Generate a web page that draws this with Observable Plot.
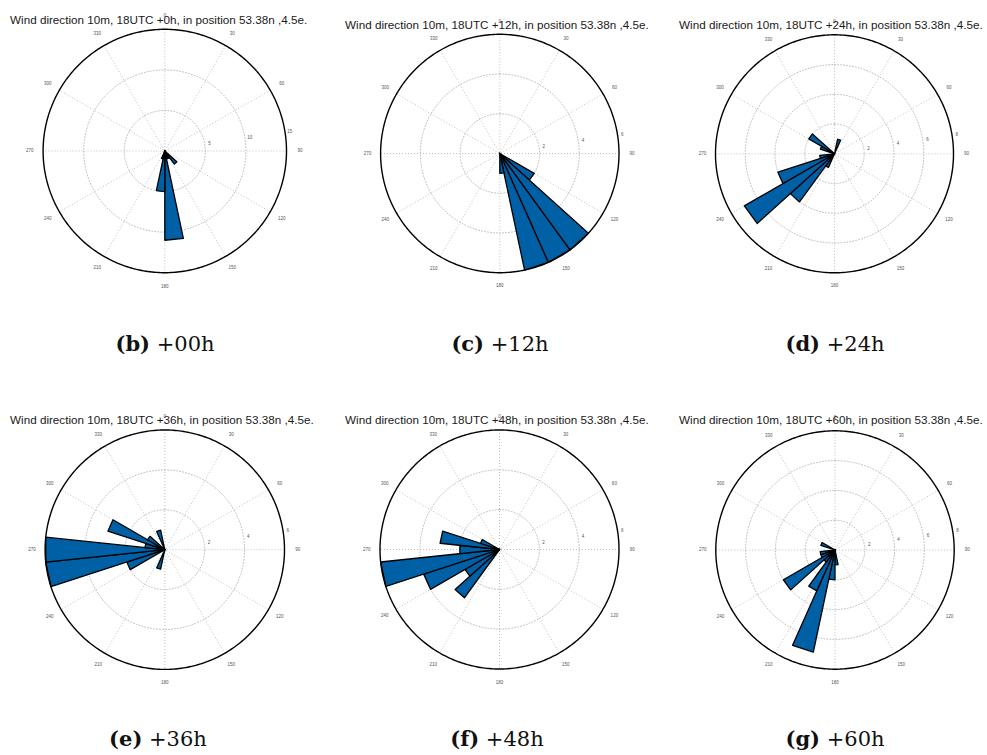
<!DOCTYPE html>
<html>
<head>
<meta charset="utf-8">
<script src="https://cdn.jsdelivr.net/npm/d3@7"></script>
<script src="https://cdn.jsdelivr.net/npm/@observablehq/plot@0.6"></script>
<style>
  body { margin: 0; background: #fff; }
  #root { position: relative; width: 987px; height: 755px; overflow: hidden; background: #fff; }
  .panel { position: absolute; }
  .title { position: absolute; font-family: "Liberation Sans", Arial, sans-serif; font-size: 11.7px; color: #1a1a1a; white-space: nowrap; line-height: 1; }
  .caption { position: absolute; font-family: "DejaVu Serif", serif; font-size: 21px; color: #111; white-space: nowrap; transform: translateX(-50%); line-height: 1; }
  .caption b { font-weight: bold; }
</style>
</head>
<body>
<div id="root"></div>
<script>
// ---------- data ----------
const binWidth = 12; // degrees per direction bin (30 bins)
const titleLeads = ["+0h", "+12h", "+24h", "+36h", "+48h", "+60h"];
const captionLetters = ["(b)", "(c)", "(d)", "(e)", "(f)", "(g)"];
const captionLeads = ["+00h", "+12h", "+24h", "+36h", "+48h", "+60h"];
const angleTicks = [30, 60, 90, 120, 150, 180, 210, 240, 270, 300, 330, 360];
const spokeAngles = [0, 30, 60, 90, 120, 150];

// bin start direction (deg) and count per bin
const dirs00 = [132, 144, 156, 168, 180, 192];
const counts00 = [2, 1, 1, 11, 5, 1];
const dirs12 = [120, 132, 144, 156, 168];
const counts12 = [2, 6, 6, 6, 1];
const dirs24 = [12, 204, 216, 228, 240, 252, 288, 300];
const counts24 = [1, 1, 4, 7, 4, 1, 1, 2];
const dirs36 = [192, 240, 252, 264, 276, 288, 300, 336];
const counts36 = [1, 2, 6, 6, 1, 3, 1, 1];
const dirs48 = [216, 228, 240, 252, 264, 276, 288];
const counts48 = [3, 2, 4, 6, 2, 3, 1];
const dirs60 = [168, 180, 192, 204, 216, 228, 240, 252, 288];
const counts60 = [1, 2, 7, 3, 1, 4, 1, 1, 1];

// radial tick values (last = outer circle)
const rTicks00 = [5, 10, 15];
const rTicks12 = [2, 4, 6];
const rTicks24 = [2, 4, 6, 8];
const rTicks36 = [2, 4, 6];
const rTicks48 = [2, 4, 6];
const rTicks60 = [2, 4, 6, 8];

const allDirs = [dirs00, dirs12, dirs24, dirs36, dirs48, dirs60];
const allCounts = [counts00, counts12, counts24, counts36, counts48, counts60];
const allTicks = [rTicks00, rTicks12, rTicks24, rTicks36, rTicks48, rTicks60];

// ---------- layout ----------
const layout = [
  {left: 0,   top: 0,   cx: 164.3, cy: 150.5, R: 121.7, tx: 10,  ty: 14, capx: 165, capy: 333},
  {left: 329, top: 0,   cx: 499.3, cy: 153,   R: 119.2, tx: 345, ty: 19, capx: 500, capy: 333},
  {left: 658, top: 0,   cx: 834,   cy: 153.3, R: 119,   tx: 679, ty: 19, capx: 835, capy: 333},
  {left: 0,   top: 397, cx: 164.3, cy: 549.2, R: 119.7, tx: 10,  ty: 414, capx: 158, capy: 728},
  {left: 329, top: 397, cx: 499,   cy: 549,   R: 119.5, tx: 345, ty: 414, capx: 497, capy: 728},
  {left: 658, top: 397, cx: 834.5, cy: 549.5, R: 119.2, tx: 679, ty: 414, capx: 835, capy: 728}
];
const W = 329, H = 300;
const toRad = Math.PI / 180;
const polar = (r, deg) => ({x: r * Math.sin(deg * toRad), y: r * Math.cos(deg * toRad)});

const root = document.getElementById("root");

for (let i = 0; i < 6; i++) {
  const L = layout[i];
  const ticks = allTicks[i];
  const rmax = ticks[ticks.length - 1];
  const s = L.R / rmax; // px per unit
  const x0 = L.cx - L.left, y0 = L.cy - L.top;

  // wedges (MATLAB rose style: triangle from centre)
  const wedgePts = [];
  allDirs[i].forEach((d, k) => {
    const c = allCounts[i][k];
    const id = "w" + k;
    [{x: 0, y: 0}, polar(c, d), polar(c, d + binWidth), {x: 0, y: 0}].forEach(p => wedgePts.push({...p, id}));
  });

  // grid rings
  const ringPts = [];
  ticks.slice(0, -1).forEach(t => {
    for (let a = 0; a <= 360; a += 2) ringPts.push({...polar(t, a), t});
  });
  const outerPts = [];
  for (let a = 0; a <= 360; a += 1) outerPts.push(polar(rmax, a));

  const spokes = spokeAngles.map(a => {
    const p1 = polar(rmax, a), p2 = polar(rmax, a + 180);
    return {x1: p1.x, y1: p1.y, x2: p2.x, y2: p2.y};
  });

  const angleLabels = angleTicks.map(a => ({...polar(rmax * 1.11, a), label: String(a % 360)}));
  const radialLabels = ticks.map(t => ({...polar(t + 4.8 / s, 81), label: String(t)}));

  const chart = Plot.plot({
    width: W,
    height: H,
    margin: 0,
    x: {domain: [-x0 / s, (W - x0) / s], axis: null},
    y: {domain: [-(H - y0) / s, y0 / s], axis: null},
    style: {fontFamily: "Liberation Sans, Arial, sans-serif", background: "transparent"},
    marks: [
      Plot.link(spokes, {x1: "x1", y1: "y1", x2: "x2", y2: "y2", stroke: "#b8b8b8", strokeWidth: 0.9, strokeDasharray: "1,2"}),
      Plot.line(ringPts, {x: "x", y: "y", z: "t", stroke: "#b8b8b8", strokeWidth: 0.9, strokeDasharray: "1,2"}),
      Plot.line(wedgePts, {x: "x", y: "y", z: "id", fill: "#0060a6", stroke: "#000", strokeWidth: 1.3, strokeLinejoin: "round"}),
      Plot.line(outerPts, {x: "x", y: "y", stroke: "#000", strokeWidth: 1.4}),
      Plot.text(angleLabels, {x: "x", y: "y", text: "label", fontSize: 4.5, fill: "#555"}),
      Plot.text(radialLabels, {x: "x", y: "y", text: "label", fontSize: 4.5, fill: "#555"})
    ]
  });
  chart.classList.add("panel");
  chart.style.left = L.left + "px";
  chart.style.top = L.top + "px";
  root.appendChild(chart);

  const title = document.createElement("div");
  title.className = "title";
  title.style.left = L.tx + "px";
  title.style.top = L.ty + "px";
  title.textContent = "Wind direction 10m, 18UTC " + titleLeads[i] + ", in position 53.38n ,4.5e.";
  root.appendChild(title);

  const cap = document.createElement("div");
  cap.className = "caption";
  cap.style.left = L.capx + "px";
  cap.style.top = L.capy + "px";
  cap.innerHTML = "<b>" + captionLetters[i] + "</b> " + captionLeads[i];
  root.appendChild(cap);
}
</script>
</body>
</html>
